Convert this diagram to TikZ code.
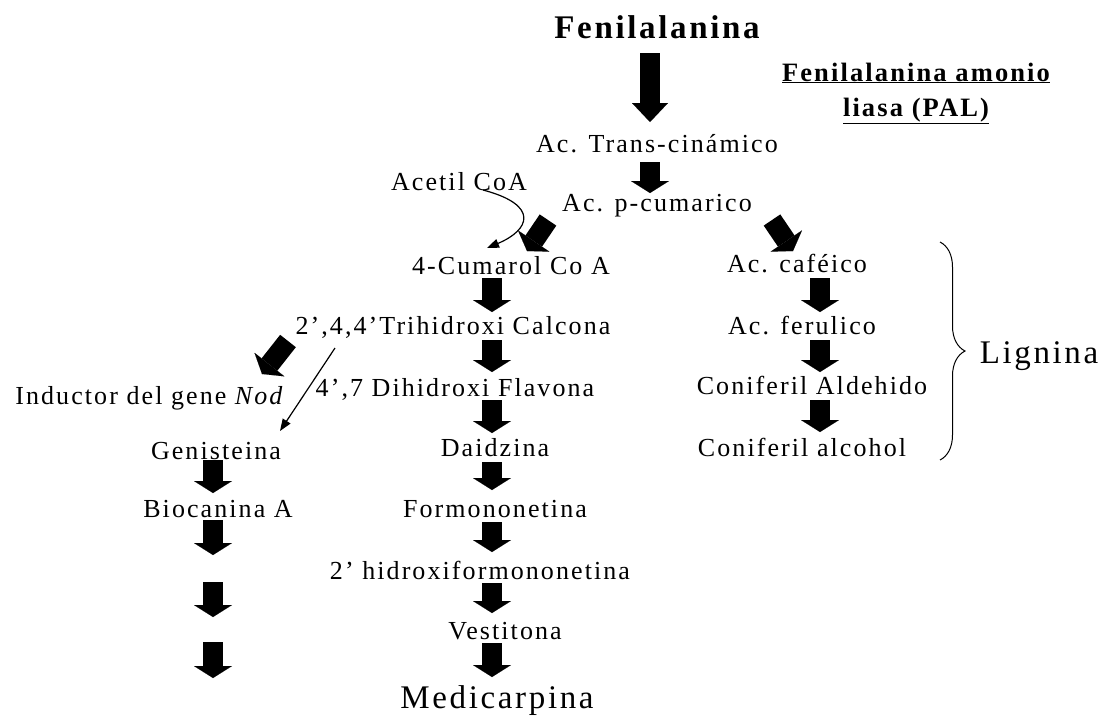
\documentclass[tikz,border=0pt]{standalone}
\usepackage{fontspec}
\setmainfont{Liberation Serif}[LetterSpace=8]
\usetikzlibrary{arrows.meta,decorations.pathreplacing}
\begin{document}
\begin{tikzpicture}[x=1pt,y=-1pt,
  lbl/.style={inner sep=0pt, anchor=base, font=\fontsize{26}{30}\selectfont},
  biglbl/.style={inner sep=0pt, anchor=base, font=\fontsize{33}{38}\selectfont},
  pallbl/.style={inner sep=0pt, anchor=base, font=\fontsize{26.5}{30}\selectfont\bfseries},
  blk/.style={line width=20pt, -{Triangle[width=38pt,length=12pt,line width=0.01pt]}},
  bigblk/.style={line width=20pt, -{Triangle[width=36pt,length=19pt,line width=0.01pt]}},
  thinarr/.style={line width=1.2pt, -{Triangle[width=9pt,length=12pt]}},
]
\useasboundingbox (0,0) rectangle (1109,716);
% texts
\node[biglbl, font=\fontsize{33}{38}\selectfont\bfseries] (fen) at (657,38) {Fenilalanina};
\node[pallbl] (pal1) at (916,81) {\underline{Fenilalanina amonio}};
\node[pallbl] (pal2) at (916,116) {\underline{liasa (PAL)}};
\node[lbl] (cin) at (657,152) {Ac. Trans-cinámico};
\node[lbl] (acet) at (459,190) {Acetil CoA};
\node[lbl] (cum) at (657,211) {Ac. p-cumarico};
\node[lbl] (cuma) at (511,274) {4-Cumarol Co A};
\node[lbl] (caf) at (797,272) {Ac. caféico};
\node[lbl] (tri) at (453,334) {2’,4,4’Trihidroxi Calcona};
\node[lbl] (fer) at (802,334) {Ac. ferulico};
\node[lbl] (dih) at (455,396) {4’,7 Dihidroxi Flavona};
\node[lbl] (ald) at (812,394) {Coniferil Aldehido};
\node[lbl] (ind) at (150,404) {Inductor del gene \textit{Nod}};
\node[lbl] (gen) at (216,459) {Genisteina};
\node[lbl] (dai) at (495,456) {Daidzina};
\node[lbl] (alc) at (802,456) {Coniferil alcohol};
\node[lbl] (bio) at (218,517) {Biocanina A};
\node[lbl] (form) at (495,517) {Formononetina};
\node[lbl] (hid) at (480,579) {2’ hidroxiformononetina};
\node[lbl] (vest) at (505,639) {Vestitona};
\node[biglbl] (med) at (497,708) {Medicarpina};
\node[biglbl] (lig) at (1039,363) {Lignina};
% block arrows
\draw[bigblk] (650,53) coordinate (a0s) -- (650,122) coordinate (a0e);
\draw[blk] (650,162) coordinate (a1s) -- (650,193) coordinate (a1e);
\draw[blk] (548,220) coordinate (dls) -- (527,251) coordinate (dle);
\draw[blk] (772,220) coordinate (drs) -- (793,251) coordinate (dre);
\draw[blk] (288,341) coordinate (dis) -- (262,374) coordinate (die);
\foreach \ya/\yb [count=\i] in {278/312,340/372,400/433,462/490,522/552,583/613,643/677}
  \draw[blk] (492,\ya) coordinate (m\i s) -- (492,\yb) coordinate (m\i e);
\foreach \ya/\yb [count=\i] in {278/312,340/372,400/432}
  \draw[blk] (820,\ya) coordinate (r\i s) -- (820,\yb) coordinate (r\i e);
\foreach \ya/\yb [count=\i] in {460/493,520/555,582/617,642/678}
  \draw[blk] (213,\ya) coordinate (l\i s) -- (213,\yb) coordinate (l\i e);
% thin arrows
\draw[thinarr] (335,348) coordinate (ts) -- (280,431) coordinate (te);
\draw[thinarr] (483,190) coordinate (cs) .. controls (540,205) and (530,230) .. (487,248) coordinate (ce);
% brace
\draw[line width=1pt, decorate, decoration={brace, amplitude=25pt}] (940,242) coordinate (bt) -- (940,460) coordinate (bb);
\end{tikzpicture}
\end{document}
